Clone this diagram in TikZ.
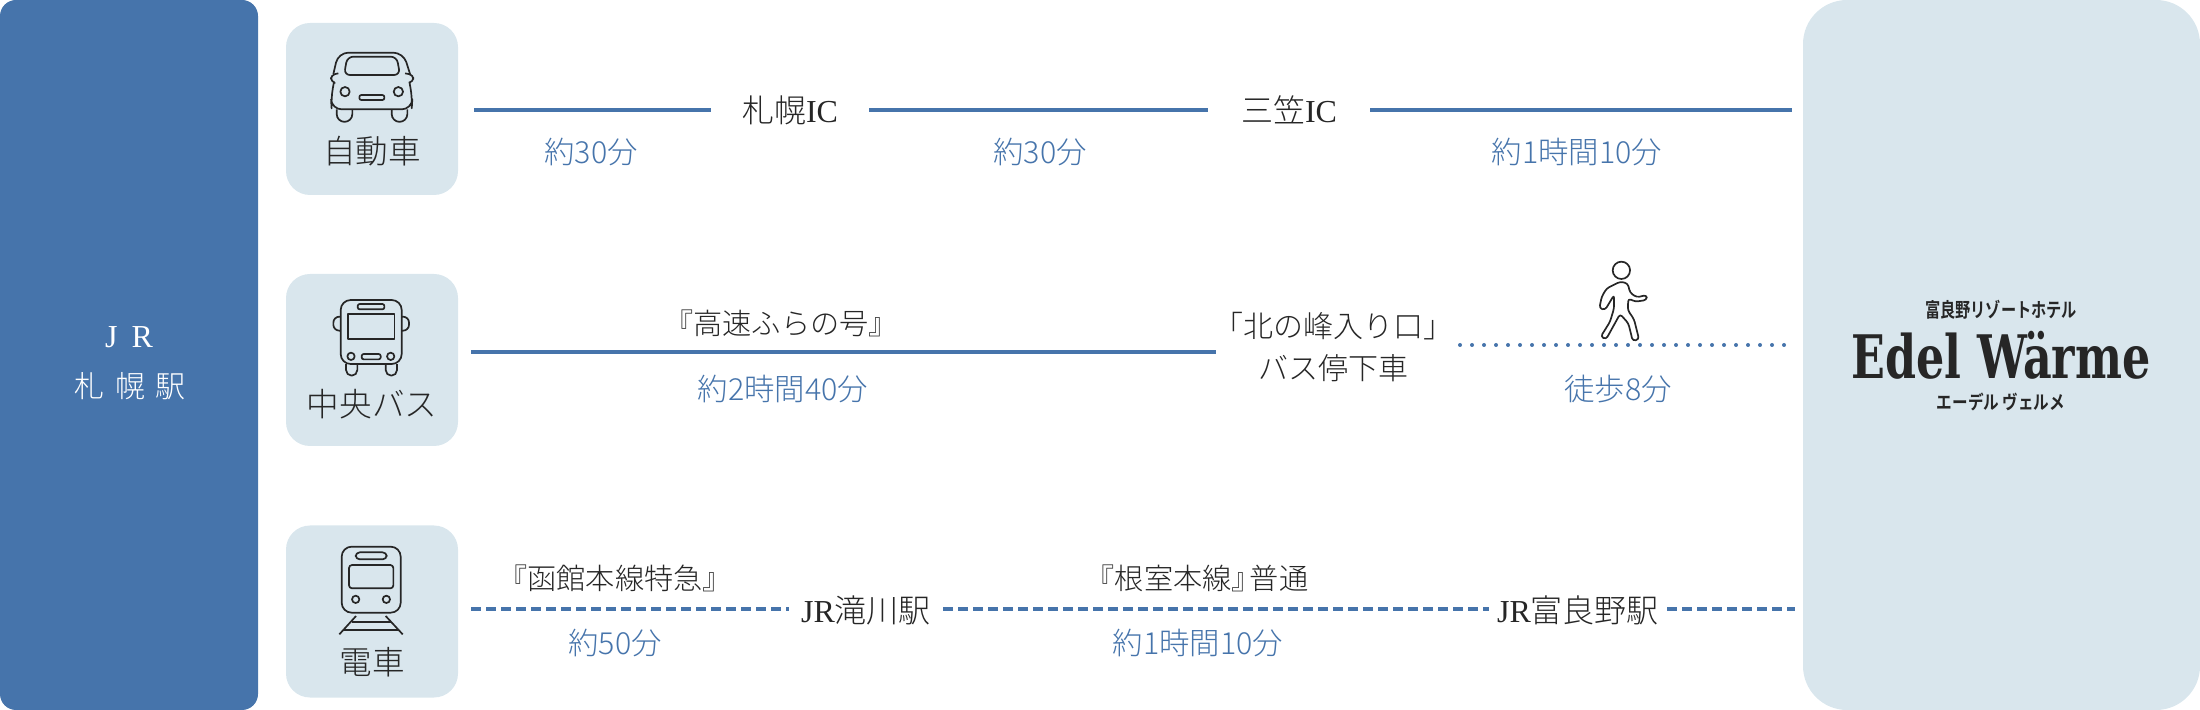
\documentclass[tikz,border=0pt]{standalone}
\usepackage{fontspec}
\setmainfont{Noto Sans CJK JP Light}
\newfontfamily\latinserif{Liberation Serif}
\newfontfamily\jpwide[LetterSpace=35]{Noto Sans CJK JP Light}
\newfontfamily\jpbold{Noto Sans CJK JP Bold}
\newfontfamily\edelfont{DejaVu Serif}

\definecolor{navy}{HTML}{4674AB}
\definecolor{pale}{HTML}{D9E6ED}
\definecolor{ink}{HTML}{262626}

\tikzstyle{panel} = [rectangle, rounded corners=8pt, fill=navy, draw=none, inner sep=0pt, minimum width=129pt, minimum height=355pt]
\tikzstyle{hotelpanel} = [rectangle, rounded corners=22pt, fill=pale, draw=none, inner sep=0pt, minimum width=198.5pt, minimum height=355pt]
\tikzstyle{modebox} = [rectangle, rounded corners=12pt, fill=pale, draw=none, inner sep=0pt, minimum width=86pt, minimum height=86pt]
\tikzstyle{boxlabel} = [text=ink, font=\fontsize{16.3}{19}\selectfont, inner sep=0pt]
\tikzstyle{stationtext} = [text=white, font=\fontsize{15}{18}\selectfont\jpwide, inner sep=0pt]
\tikzstyle{place} = [text=ink, font=\fontsize{16}{19}\selectfont, inner sep=0pt, align=center]
\tikzstyle{service} = [text=ink, font=\fontsize{14.6}{17}\selectfont, inner sep=0pt, align=center]
\tikzstyle{minutes} = [text=navy, font=\fontsize{15.2}{18}\selectfont, inner sep=0pt]
\tikzstyle{logo} = [text=ink, inner sep=0pt, transform shape]
\tikzstyle{road} = [navy, line width=2pt]
\tikzstyle{rail} = [navy, line width=2pt, dash pattern=on 5pt off 2.5pt]
\tikzstyle{walk} = [navy, line width=2pt, line cap=round, dash pattern=on 0pt off 6pt]
\tikzstyle{icon} = [ink, line width=0.85pt, line join=round]

\begin{document}
\begin{tikzpicture}[x=0.5pt,y=-0.5pt]
\useasboundingbox (0,0) rectangle (2200,710);

\node[panel] (station) at (129,355) {};
\node[hotelpanel] (hotel) at (2001.5,355) {};
\node[modebox] (carbox) at (372,109) {};
\node[modebox] (busbox) at (372,360) {};
\node[modebox] (trainbox) at (372,611.5) {};

\node[stationtext] (stationtop) at (129,337) {{\latinserif\fontsize{16}{18}\selectfont J\hspace{7pt}R}};
\node[stationtext] (stationname) at (130,386) {札幌駅};

\node[boxlabel] (carlabel) at (372,151) {自動車};
\node[boxlabel] (buslabel) at (372,404) {中央バス};
\node[boxlabel] (trainlabel) at (372,662) {電車};

% car row
\coordinate (carstart) at (474,110);
\coordinate (carend) at (1792,110);
\node[place, inner xsep=15.5pt] (sapporoic) at (790,110) {札幌{\latinserif IC}};
\node[place, inner xsep=16.5pt] (mikasaic) at (1289,110) {三笠{\latinserif IC}};
\node[minutes] (cartimea) at (591,152) {約30分};
\node[minutes] (cartimeb) at (1040,152) {約30分};
\node[minutes] (cartimec) at (1577,152) {約1時間10分};
\draw[road] (carstart) -- (sapporoic);
\draw[road] (sapporoic) -- (mikasaic);
\draw[road] (mikasaic) -- (carend);

% bus row
\coordinate (busstart) at (471,352);
\coordinate (walkstart) at (1460,345);
\coordinate (walkend) at (1786,345);
\node[service] (expressname) at (781,323) {『高速ふらの号』};
\node[service, font=\fontsize{15}{18}\selectfont, inner xsep=-1.5pt] (busstop) at (1333,347) {「北の峰入り口」\\[3pt]バス停下車};
\node[minutes] (bustime) at (783,389) {約2時間40分};
\node[minutes] (walktime) at (1618,389) {徒歩8分};
\draw[road] (busstart) -- (busstart -| busstop.west);
\draw[walk] (walkstart) -- (walkend);

% train row
\coordinate (trainstart) at (471,609);
\coordinate (trainend) at (1795,609);
\node[service] (hakodate) at (615,578) {『函館本線特急』};
\node[service] (nemuro) at (1197,578) {『根室本線』\kern-5.5pt 普通};
\node[place, inner xsep=6pt] (takikawa) at (866,610) {{\latinserif JR}滝川駅};
\node[place, inner xsep=4pt] (furano) at (1578,610) {{\latinserif JR}富良野駅};
\node[minutes] (traintimea) at (615,643) {約50分};
\node[minutes] (traintimeb) at (1198,643) {約1時間10分};
\draw[rail] (trainstart) -- (trainstart -| takikawa.west);
\draw[rail] (trainstart -| takikawa.east) -- (trainstart -| furano.west);
\draw[rail] (trainstart -| furano.east) -- (trainend);

% logo
\node[logo, xscale=0.76, font=\fontsize{10}{12}\selectfont\jpbold] (resort) at (2001,310) {富良野リゾートホテル};
\node[logo, xscale=0.74, font=\fontsize{30}{32}\selectfont\edelfont\bfseries] (edel) at (2001,355) {Edel Wärme};
\node[logo, xscale=0.82, font=\fontsize{9.5}{12}\selectfont\jpbold] (edelkana) at (2001,402) {エーデル ヴェルメ};

% car icon
\begin{scope}[shift={(270,10)},x=0.1667pt,y=-0.1667pt,icon]
\draw[rounded corners=5pt] (190,192) -- (205,128) -- (400,128) -- (420,192);
\draw[rounded corners=3pt] (222,195) -- (232,140) -- (380,140) -- (390,195) -- cycle;
\draw[rounded corners=2pt] (205,190) -- (183,195) -- (183,215) -- (192,218);
\draw[rounded corners=2pt] (405,190) -- (430,195) -- (430,215) -- (418,218);
\draw[rounded corners=5pt] (192,215) -- (183,265) -- (185,298) -- (425,298) -- (427,265) -- (418,215);
\draw (225,245) circle (14);
\draw (385,245) circle (14);
\draw[rounded corners=1pt] (268,255) rectangle (343,270);
\draw (200,298) -- (200,312) arc (180:0:23.5) -- (247,298);
\draw (365,298) -- (365,312) arc (180:0:23.5) -- (412,298);
\end{scope}

% bus icon
\begin{scope}[shift={(270,265)},x=0.1667pt,y=-0.1667pt,icon]
\draw[rounded corners=5pt] (212,105) rectangle (395,297);
\draw[rounded corners=1pt] (263,117) rectangle (343,133);
\draw (233,148) rectangle (373,222);
\draw[rounded corners=3pt] (212,155) -- (190,155) -- (190,197) -- (212,197);
\draw[rounded corners=3pt] (395,155) -- (417,155) -- (417,197) -- (395,197);
\draw (243,274) circle (11);
\draw (362,274) circle (11);
\draw[rounded corners=1pt] (275,267) rectangle (332,283);
\draw (228,297) -- (228,315) arc (180:0:17) -- (262,297);
\draw (347,297) -- (347,315) arc (180:0:17) -- (381,297);
\end{scope}

% train icon
\begin{scope}[shift={(270,515)},x=0.1667pt,y=-0.1667pt,icon]
\draw[rounded corners=5pt] (215,95) rectangle (392,293);
\draw[rounded corners=2pt] (257,112) rectangle (350,133);
\draw[rounded corners=1.5pt] (237,150) rectangle (370,220);
\draw (257,253) circle (11);
\draw (349,253) circle (11);
\draw (258,303) -- (208,358);
\draw (347,303) -- (398,358);
\draw (245,320) -- (362,320);
\draw (222,344) -- (385,344);
\end{scope}

% walking person
\begin{scope}[shift={(1440,240)},x=0.1667pt,y=-0.1667pt,icon]
\draw (544,91) circle (26);
\draw[rounded corners=1.5pt] (540,125) -- (563,130) -- (570,158) -- (590,172) -- (620,165) -- (620,180) -- (585,185) -- (565,175) -- (563,210) -- (582,238) -- (597,298) -- (578,303) -- (565,250) -- (540,222) -- (498,298) -- (482,290) -- (510,245) -- (522,205) -- (522,165) -- (495,210) -- (478,205) -- (485,170) -- (500,145) -- cycle;
\end{scope}

\end{tikzpicture}
\end{document}
